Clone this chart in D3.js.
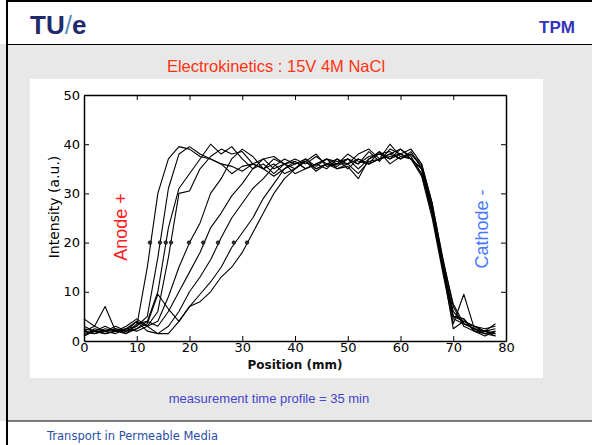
<!DOCTYPE html>
<html>
<head>
<meta charset="utf-8">
<script src="https://cdn.jsdelivr.net/npm/d3@7"></script>
<style>
  body { margin: 0; background: #fff; }
  svg { display: block; }
</style>
</head>
<body>
<svg id="chart" width="592" height="445"></svg>
<script>
// positions along the sample (mm), one reading every 2 mm
const positions = d3.range(0, 80, 2);

// intensity profiles, one per measurement (a.u.)
const profile1 = [2,3,2,2.5,2,3,15,30,37,39.5,39,37.5,37,36,34,35.5,36,35,37,36,35,36.5,35,36,35.5,37,36,37.5,38,37,38,37,35,27,16,6,3.5,2.5,2,1.5];
const profile2 = [1.5,2,1.5,2,2.5,3,5,17,31,38,39.5,38,37,36,35.5,34.5,36,37,35,36,36.5,35,36,37,35,36,37,36,38.5,37,39,37.5,34,26,15,5,4.5,2,1.5,1];
const profile3 = [2.5,2,3,2,1.5,2.5,4,10,23,31,34,37,40,38,39.5,37,35,36,34,36,37,36,37.5,36,36,38,36.5,36,37,40,37.5,38,36,28,17,7,3,2,1,2];
const profile4 = [1,2.5,2,3,2,4,3,6,17,30,30.5,35,37.5,39,38,38.5,36,35,33.5,35,36,37,35.5,37,36.5,37,35,37,38,38.5,37,38.5,35,27,16,5,4,3,2,2.5];
const profile5 = [2,1.5,2.5,2,3,4.5,3,4,9,15,20,24,30,33,37,39,37.5,35,36,34,35,36.5,38,35.5,36,36,38,39,37,37.5,38,37,33.5,25,14,3.5,9.5,2.5,1.5,2];
const profile6 = [3,2,2,2.5,1.5,3.5,4,3,6,10,14,18,23,26,29.5,32,35,37,37.5,36,34,35,36,37,36,37,36,38.5,36.5,39,38,39,36,28,16.5,7.5,3.5,3,2,1];
const profile7 = [4.5,3,7,2,2.5,4,2,1.5,3,6,10,13,16.5,21,25,28,31,33,35.5,37,36,36.5,34.5,36,37,35,37,36,37,38,39,37,35,26,15,2.5,4,3,2.5,3];
const profile8 = [1,2,1.5,2,2,2.5,3.5,9.5,6.5,4,7,9.5,12,15,19,22,25,29,32,35,36.5,35,36,35,37,36,34,36.5,37,38,37,38,35.5,27,15.5,5,4.5,2,2,3.5];
const profile9 = [2,1.5,2,1.5,2.5,2,3,1.5,1.5,4,7,8,10,13,15,18,22,26,30,33,35,37,35,36,35,35.5,33,37,38.5,36,37.5,37,34,26,15,4.5,3.5,2.5,2,1.5];
const profiles = [profile1, profile2, profile3, profile4, profile5, profile6, profile7, profile8, profile9];

// front position where each profile crosses intensity 20 (mm)
const frontPositions = [12.5, 14.4, 15.5, 16.5, 19.9, 22.6, 25.4, 28.4, 30.9];
const frontLevel = 20;

const xTicks = [0, 10, 20, 30, 40, 50, 60, 70, 80];
const yTicks = [0, 10, 20, 30, 40, 50];

const svg = d3.select('#chart');
const sans = 'Liberation Sans, Arial, sans-serif';
const font = 'DejaVu Sans, Verdana, sans-serif';

// slide background
svg.append('rect').attr('x', 0).attr('y', 44).attr('width', 592).attr('height', 377).attr('fill', '#e8e8e8');
svg.append('rect').attr('x', 30).attr('y', 79).attr('width', 513).attr('height', 299).attr('fill', '#fff');
svg.append('line').attr('x1', 7).attr('x2', 592).attr('y1', 1).attr('y2', 1).attr('stroke', '#000').attr('stroke-width', 2);
svg.append('line').attr('x1', 7).attr('x2', 7).attr('y1', 0).attr('y2', 445).attr('stroke', '#000').attr('stroke-width', 2);
svg.append('line').attr('x1', 7).attr('x2', 592).attr('y1', 44.5).attr('y2', 44.5).attr('stroke', '#000').attr('stroke-width', 1.2);
svg.append('line').attr('x1', 7).attr('x2', 592).attr('y1', 421).attr('y2', 421).attr('stroke', '#000').attr('stroke-width', 1.2);

// header
svg.append('text').attr('x', 30).attr('y', 34).attr('font-family', sans)
  .attr('font-weight', 'bold').attr('font-size', 26).attr('fill', '#1f2a6b')
  .html('TU<tspan fill="#5a8fbf" font-weight="normal">/</tspan>e');
svg.append('text').attr('x', 575).attr('y', 33).attr('text-anchor', 'end')
  .attr('font-family', sans).attr('font-weight', 'bold')
  .attr('font-size', 17).attr('fill', '#3333bb').text('TPM');

svg.append('text').attr('x', 276).attr('y', 72).attr('text-anchor', 'middle')
  .attr('font-family', sans).attr('font-size', 16.5)
  .attr('fill', '#ff3311').text('Electrokinetics : 15V 4M NaCl');

svg.append('text').attr('x', 269).attr('y', 403).attr('text-anchor', 'middle')
  .attr('font-family', sans).attr('font-size', 13)
  .attr('fill', '#4444cc').text('measurement time profile = 35 min');

svg.append('text').attr('x', 47).attr('y', 440)
  .attr('font-family', font).attr('font-size', 11.5)
  .attr('fill', '#2a4fa8').text('Transport in Permeable Media');

// plot
const x = d3.scaleLinear().domain([0, 80]).range([84, 506]);
const y = d3.scaleLinear().domain([0, 50]).range([341, 95]);

const g = svg.append('g');

const line = d3.line().x((d, i) => x(positions[i])).y(d => y(d));
g.selectAll('path.profile')
  .data(profiles)
  .join('path')
  .attr('class', 'profile')
  .attr('d', line)
  .attr('fill', 'none')
  .attr('stroke', '#000')
  .attr('stroke-width', 1.1)
  .attr('stroke-linejoin', 'round');

g.selectAll('circle.front')
  .data(frontPositions)
  .join('circle')
  .attr('class', 'front')
  .attr('cx', d => x(d))
  .attr('cy', y(frontLevel))
  .attr('r', 1.8)
  .attr('fill', '#333')
  .attr('stroke', '#000')
  .attr('stroke-width', 0.6);

// axes on all four sides, ticks inward
const axBottom = g.append('g').attr('transform', `translate(0,${y(0)})`)
  .call(d3.axisBottom(x).tickValues(xTicks).tickSizeInner(-5).tickSizeOuter(0).tickPadding(2));
const axTop = g.append('g').attr('transform', `translate(0,${y(50)})`)
  .call(d3.axisTop(x).tickValues(xTicks).tickSizeInner(-5).tickSizeOuter(0).tickFormat(''));
const axLeft = g.append('g').attr('transform', `translate(${x(0)},0)`)
  .call(d3.axisLeft(y).tickValues(yTicks).tickSizeInner(-5).tickSizeOuter(0).tickPadding(4));
const axRight = g.append('g').attr('transform', `translate(${x(80)},0)`)
  .call(d3.axisRight(y).tickValues(yTicks).tickSizeInner(-5).tickSizeOuter(0).tickFormat(''));

[axBottom, axTop, axLeft, axRight].forEach(a => {
  a.select('.domain').attr('stroke', '#000').attr('stroke-width', 1.5);
  a.selectAll('.tick line').attr('stroke', '#000').attr('stroke-width', 1);
  a.selectAll('text').attr('font-family', font).attr('font-size', 13).attr('fill', '#000');
});
axBottom.selectAll('.tick').filter(d => d === 0).select('line').remove();
axLeft.selectAll('.tick').filter(d => d === 0).select('line').remove();

svg.append('text').attr('x', 295).attr('y', 369).attr('text-anchor', 'middle')
  .attr('font-family', font).attr('font-size', 12).attr('font-weight', 'bold')
  .attr('fill', '#111').text('Position (mm)');
svg.append('text').attr('transform', 'translate(59,207) rotate(-90)').attr('text-anchor', 'middle')
  .attr('font-family', font).attr('font-size', 14)
  .attr('fill', '#000').text('Intensity (a.u.)');

svg.append('text').attr('transform', 'translate(127,227) rotate(-90)').attr('text-anchor', 'middle')
  .attr('font-family', sans).attr('font-size', 18)
  .attr('fill', '#ff2020').text('Anode +');
svg.append('text').attr('transform', 'translate(488,229) rotate(-90)').attr('text-anchor', 'middle')
  .attr('font-family', sans).attr('font-size', 18)
  .attr('fill', '#4a78ff').text('Cathode -');
</script>
</body>
</html>
